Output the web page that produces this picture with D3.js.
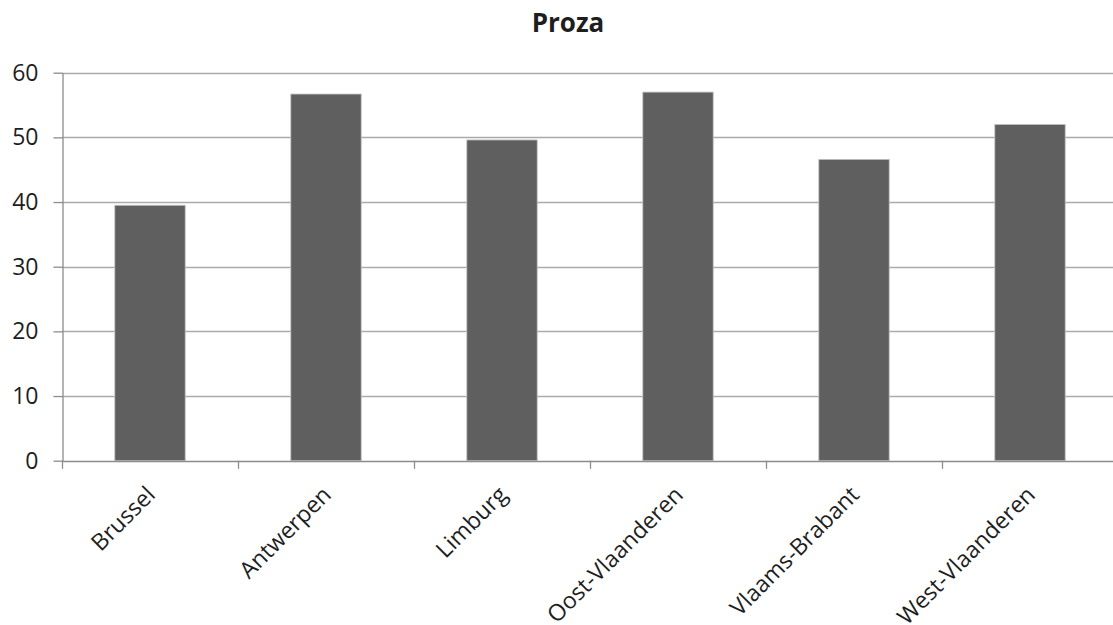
<!DOCTYPE html>
<html>
<head>
<meta charset="utf-8">
<script src="https://cdn.jsdelivr.net/npm/d3@7"></script>
<style>
  html, body { margin: 0; padding: 0; background: #fff; }
  svg { display: block; }
  text { font-family: "Open Sans", "Liberation Sans", sans-serif; fill: #1e1e1e; }
</style>
</head>
<body>
<svg id="chart" width="1113" height="625"></svg>
<script>
// Provinces and their values
const categories = ["Brussel", "Antwerpen", "Limburg", "Oost-Vlaanderen", "Vlaams-Brabant", "West-Vlaanderen"];
const values = [39.5, 56.7, 49.6, 57.0, 46.6, 52.0];
const yTicks = [0, 10, 20, 30, 40, 50, 60];
const title = "Proza";

const svg = d3.select("#chart");
const plotLeft = 62, plotRight = 1118, plotTop = 72.7, plotBottom = 460.7;

const x = d3.scaleBand().domain(categories).range([plotLeft, plotRight]).paddingInner(0).paddingOuter(0);
const y = d3.scaleLinear().domain([0, 60]).range([plotBottom, plotTop]);

// Horizontal gridlines
svg.append("g")
  .selectAll("line")
  .data(yTicks.filter(d => d > 0))
  .join("line")
  .attr("x1", plotLeft).attr("x2", plotRight)
  .attr("y1", d => Math.round(y(d)) + 0.5).attr("y2", d => Math.round(y(d)) + 0.5)
  .attr("stroke", "#aaaaaa").attr("stroke-width", 1.3);

// Bars (gap width 150%)
const barW = x.bandwidth() / 2.5;
svg.append("g")
  .selectAll("rect")
  .data(categories)
  .join("rect")
  .attr("x", d => x(d) + (x.bandwidth() - barW) / 2)
  .attr("width", barW)
  .attr("y", (d, i) => y(values[i]))
  .attr("height", (d, i) => plotBottom - y(values[i]))
  .attr("fill", "#5f5f5f")
  .attr("stroke", "#c4c4c4")
  .attr("stroke-width", 0.8);

// Y axis
const yAxis = d3.axisLeft(y).tickValues(yTicks).tickSize(9).tickSizeOuter(0).tickPadding(15);
const gy = svg.append("g").attr("transform", `translate(${plotLeft + 0.5},0)`).call(yAxis);
gy.select(".domain").attr("stroke", "#8c8c8c").attr("stroke-width", 1.3);
gy.selectAll(".tick line").attr("stroke", "#8c8c8c").attr("stroke-width", 1.3);
gy.selectAll(".tick text").attr("font-size", 23).style("font-family", "'Open Sans', sans-serif").attr("fill", "#1e1e1e");

// X axis baseline and category boundary ticks
const boundaries = categories.map(c => x(c)).concat([plotRight]);
svg.append("line")
  .attr("x1", plotLeft).attr("x2", plotRight)
  .attr("y1", Math.round(plotBottom) + 0.5).attr("y2", Math.round(plotBottom) + 0.5)
  .attr("stroke", "#8c8c8c").attr("stroke-width", 1.3);
svg.append("g")
  .selectAll("line")
  .data(boundaries)
  .join("line")
  .attr("x1", d => Math.round(d) + 0.5).attr("x2", d => Math.round(d) + 0.5)
  .attr("y1", plotBottom).attr("y2", plotBottom + 8)
  .attr("stroke", "#8c8c8c").attr("stroke-width", 1.3);

// Rotated category labels
svg.append("g")
  .selectAll("text")
  .data(categories)
  .join("text")
  .attr("transform", d => `translate(${x(d) + x.bandwidth() / 2 - 5},${plotBottom + 24}) rotate(-45)`)
  .attr("text-anchor", "end")
  .attr("dy", "0.71em")
  .attr("font-size", 23)
  .text(d => d);

// Title
svg.append("text")
  .attr("x", 568).attr("y", 32)
  .attr("text-anchor", "middle")
  .attr("font-size", 26)
  .attr("font-weight", "bold")
  .text(title);
</script>
</body>
</html>
